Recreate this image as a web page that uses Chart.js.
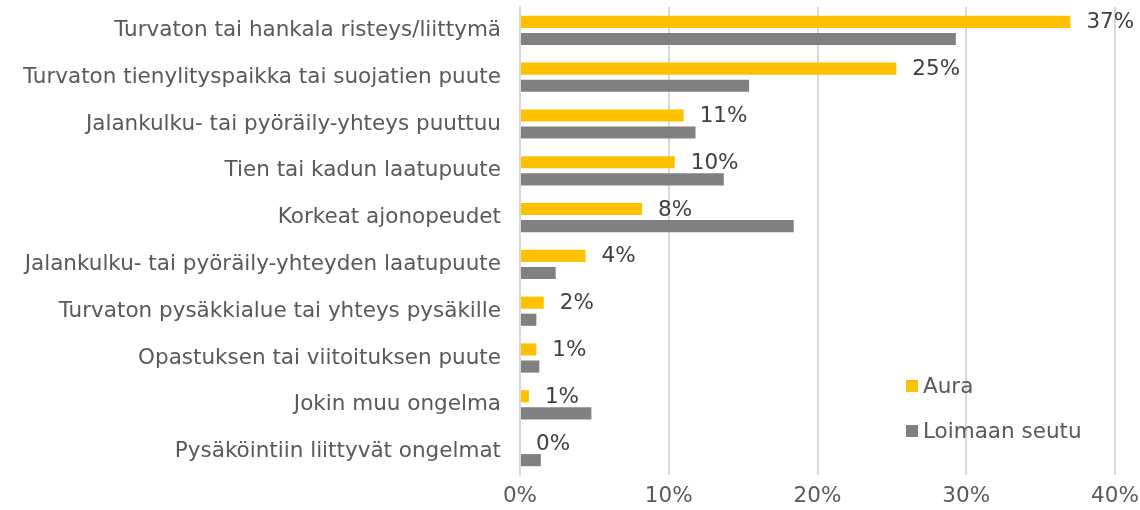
<!DOCTYPE html>
<html>
<head>
<meta charset="utf-8">
<script src="https://cdn.jsdelivr.net/npm/chart.js@4"></script>
<style>
  html, body { margin: 0; padding: 0; background: #fff; }
  #wrap { width: 1140px; height: 510px; }
</style>
</head>
<body>
<div id="wrap"><canvas id="chart"></canvas></div>
<script>
// Data (percent)
const categories = [
  "Turvaton tai hankala risteys/liittymä",
  "Turvaton tienylityspaikka tai suojatien puute",
  "Jalankulku- tai pyöräily-yhteys puuttuu",
  "Tien tai kadun laatupuute",
  "Korkeat ajonopeudet",
  "Jalankulku- tai pyöräily-yhteyden laatupuute",
  "Turvaton pysäkkialue tai yhteys pysäkille",
  "Opastuksen tai viitoituksen puute",
  "Jokin muu ongelma",
  "Pysäköintiin liittyvät ongelmat"
];
const auraValues = [37.0, 25.3, 11.0, 10.4, 8.2, 4.4, 1.6, 1.1, 0.6, 0];
const loimaaValues = [29.3, 15.4, 11.8, 13.7, 18.4, 2.4, 1.1, 1.3, 4.8, 1.4];
const xTicks = [0, 10, 20, 30, 40];

const FONT = "'DejaVu Sans', Verdana, sans-serif";
const SIZE = 21.5;
const AURA = "#FFC000";
const LOIMAA = "#808080";

// value labels to the right of the Aura bars
const auraLabels = {
  id: "auraLabels",
  afterDatasetsDraw(chart) {
    const ctx = chart.ctx;
    const meta = chart.getDatasetMeta(0);
    ctx.save();
    ctx.font = SIZE + "px " + FONT;
    ctx.fillStyle = "#404040";
    ctx.textAlign = "left";
    ctx.textBaseline = "middle";
    meta.data.forEach((bar, i) => {
      ctx.fillText(Math.round(auraValues[i]) + "%", bar.x + 16, bar.y + 1);
    });
    ctx.restore();
  }
};

// legend drawn inside the plot area, bottom right
const innerLegend = {
  id: "innerLegend",
  afterDraw(chart) {
    const ctx = chart.ctx;
    const area = chart.chartArea;
    const x = area.right - 209;
    let y = area.bottom - 89;
    ctx.save();
    ctx.font = SIZE + "px " + FONT;
    ctx.textBaseline = "middle";
    chart.data.datasets.forEach((ds) => {
      ctx.fillStyle = ds.backgroundColor;
      ctx.fillRect(x, y - 6, 12, 12);
      ctx.fillStyle = "#595959";
      ctx.fillText(ds.label, x + 17, y + 1);
      y += 45;
    });
    ctx.restore();
  }
};

new Chart(document.getElementById("chart"), {
  type: "bar",
  data: {
    labels: categories,
    datasets: [
      { label: "Aura", data: auraValues, backgroundColor: AURA },
      { label: "Loimaan seutu", data: loimaaValues, backgroundColor: LOIMAA }
    ]
  },
  options: {
    indexAxis: "y",
    responsive: true,
    maintainAspectRatio: false,
    animation: false,
    layout: { padding: { top: 7, right: 25, bottom: 0, left: 0 } },
    datasets: { bar: { categoryPercentage: 0.73, barPercentage: 0.71 } },
    plugins: { legend: { display: false }, tooltip: { enabled: false } },
    scales: {
      x: {
        min: 0,
        max: 40,
        afterBuildTicks: (scale) => { scale.ticks = xTicks.map((v) => ({ value: v })); },
        afterFit: (scale) => {
          scale.height = 35;
          scale.paddingLeft = 0;
          scale.paddingRight = 0;
        },
        grid: { color: "#d9d9d9", lineWidth: 2, drawTicks: false },
        border: { display: false },
        ticks: {
          padding: 9,
          maxRotation: 0,
          color: "#595959",
          font: { family: FONT, size: SIZE },
          callback: (v) => v + "%"
        }
      },
      y: {
        afterFit: (scale) => {
          scale.width = 520;
          scale.paddingTop = 0;
          scale.paddingBottom = 0;
        },
        grid: { display: false, drawTicks: false },
        border: { display: true, color: "#d9d9d9", width: 2 },
        ticks: {
          padding: 19,
          color: "#595959",
          font: { family: FONT, size: SIZE }
        }
      }
    }
  },
  plugins: [auraLabels, innerLegend]
});
</script>
</body>
</html>
